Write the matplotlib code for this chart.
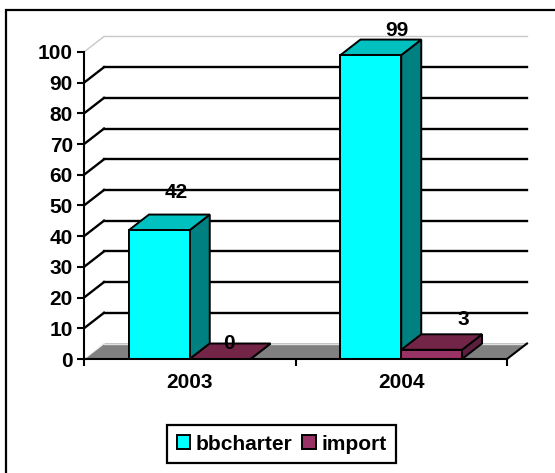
import matplotlib
matplotlib.use('Agg')
import matplotlib.pyplot as plt
from matplotlib.patches import Polygon, Patch, Rectangle
from matplotlib.lines import Line2D
from matplotlib.transforms import IdentityTransform

plt.rcParams['font.family'] = ['Liberation Sans', 'DejaVu Sans']
plt.rcParams['font.weight'] = 'bold'
plt.rcParams['font.size'] = 15

# data
years = ['2003', '2004']
bbcharter = [42, 99]
imports = [0, 3]
series = ['bbcharter', 'import']

# styles
front_col = ['#00FFFF', '#993366']
top_col = ['#00C0C0', '#732548']
side_col = ['#008080', '#5C1F3D']
DX, DY = 20, 15.5        # depth offset in pixels
bar_w = 0.2875
# label offsets (px) from back-top centre of each bar, Excel puts them oddly
lab_off = {(0, 0): (-3, 22), (0, 1): (-11, 0), (1, 0): (6, 9), (1, 1): (12, 15)}

fig = plt.figure(figsize=(5.55, 4.73), dpi=100)
ax = fig.add_axes([84/555, 114/473, 423/555, 307/473])
ax.set_xlim(0, len(years))
ax.set_ylim(0, 100)
ax.patch.set_visible(False)
ident = IdentityTransform()


def P(x, y, back=False):
    px, py = ax.transData.transform((x, y))
    if back:
        px += DX
        py += DY
    return (px, py)


def poly(pts, fc, ec='black', lw=1.4, z=3):
    p = Polygon(pts, closed=True, facecolor=fc, edgecolor=ec, linewidth=lw,
                transform=ident, clip_on=False, zorder=z, joinstyle='miter')
    ax.add_patch(p)


def line(p0, p1, color='black', lw=1.7, z=2):
    ax.add_line(Line2D([p0[0], p1[0]], [p0[1], p1[1]], color=color, lw=lw,
                       transform=ident, clip_on=False, zorder=z))


nx = len(years)
# back wall gridlines + left wall lines
for v in range(10, 100, 10):
    line(P(0, v, True), P(nx, v, True))
    line(P(0, v), P(0, v, True))
line(P(0, 100, True), P(nx, 100, True), color='#C8C8C8', lw=1.0)
line(P(0, 100), P(0, 100, True), color='#C8C8C8', lw=1.0)

# floor
poly([P(0, 0), P(nx, 0), P(nx, 0, True), P(0, 0, True)], '#808080', ec='none', z=1)
line(P(0, 0, True), P(nx, 0, True), color='#E0E0E0', lw=1.0, z=1.5)
line(P(0, 0), P(0, 0, True), color='#F0F0F0', lw=1.0, z=1.5)
line(P(nx, 0), P(nx, 0, True), color='black', lw=1.5, z=1.5)

vals = [bbcharter, imports]
for i in range(nx):
    for s in range(len(series)):
        x0 = i + 0.5 - bar_w + s * bar_w
        x1 = x0 + bar_w
        h = vals[s][i]
        poly([P(x1, 0), P(x1, 0, True), P(x1, h, True), P(x1, h)], side_col[s])
        poly([P(x0, h), P(x1, h), P(x1, h, True), P(x0, h, True)], top_col[s])
        poly([P(x0, 0), P(x1, 0), P(x1, h), P(x0, h)], front_col[s])
        cx, cy = P((x0 + x1) / 2, h, True)
        ox, oy = lab_off[(i, s)]
        ax.text(cx + ox, cy + oy, str(h), transform=ident, ha='center', va='center',
                fontsize=15, fontweight='bold', zorder=6)

# axes
for sp in ['top', 'right']:
    ax.spines[sp].set_visible(False)
for sp in ['left', 'bottom']:
    ax.spines[sp].set_linewidth(1.5)
    ax.spines[sp].set_zorder(5)
ax.set_yticks(range(0, 101, 10))
ax.tick_params(axis='y', direction='out', length=5, width=1.5, pad=3, labelsize=15)
ax.set_xticks(range(0, nx + 1))
ax.set_xticklabels([])
ax.tick_params(axis='x', which='major', direction='out', length=5, width=1.5)
ax.set_xticks([i + 0.5 for i in range(nx)], minor=True)
ax.set_xticklabels(years, minor=True)
ax.tick_params(axis='x', which='minor', length=0, pad=10, labelsize=15)

# legend
handles = [Patch(facecolor=front_col[s], edgecolor='black', linewidth=1.4) for s in range(len(series))]
leg = ax.legend(handles, series, loc='center', bbox_to_anchor=(281.5/555, 29/473),
                bbox_transform=fig.transFigure, ncol=2, fancybox=False, edgecolor='black',
                framealpha=1, handlelength=0.65, handleheight=0.65, handletextpad=0.25,
                columnspacing=0.5, borderpad=0.45, borderaxespad=0,
                prop={'size': 15, 'weight': 'bold'})
leg.get_frame().set_linewidth(1.6)

# outer chart frame
fig.add_artist(Rectangle((6/555, -0.2), 1.2, 1 - 10/473 + 0.2, transform=fig.transFigure,
                         fill=False, edgecolor='black', linewidth=1.6))

fig.savefig('out.png', dpi=100)
